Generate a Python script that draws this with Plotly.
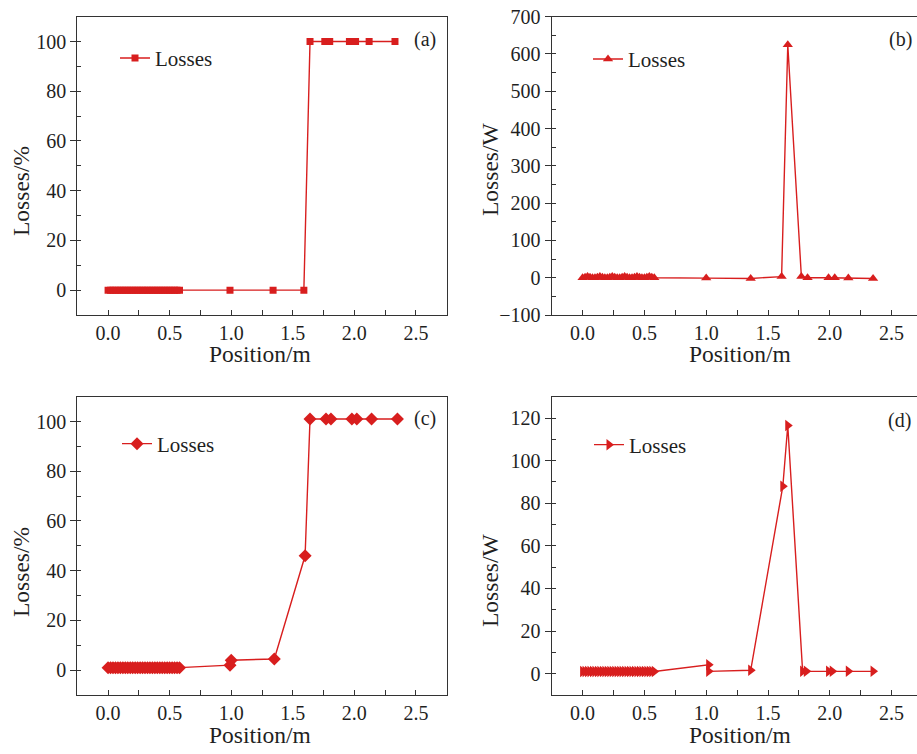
import plotly.graph_objects as go

# ---------------- data ----------------
pos_dense = [0.00, 0.02, 0.04, 0.06, 0.08, 0.10, 0.12, 0.14, 0.16, 0.18,
             0.20, 0.22, 0.24, 0.26, 0.28, 0.30, 0.32, 0.34, 0.36, 0.38,
             0.40, 0.42, 0.44, 0.46, 0.48, 0.50, 0.52, 0.54, 0.56, 0.58]

a_x = pos_dense + [0.99, 1.34, 1.59, 1.64, 1.76, 1.80, 1.96, 2.01, 2.12, 2.33]
a_y = [0]*30 + [0, 0, 0, 100, 100, 100, 100, 100, 100, 100]

b_x = pos_dense + [1.00, 1.36, 1.61, 1.66, 1.77, 1.82, 1.99, 2.04, 2.15, 2.35]
b_y = [0, 1, 3, 1, 0, 0, 1, 3, 1, 0,
       0, 1, 3, 1, 0, 0, 1, 3, 1, 0,
       0, 1, 3, 1, 0, 0, 1, 3, 1, 0] + [-1, -2, 3, 625, 3, 0, 0, 0, -1, -2]

c_x = pos_dense + [0.99, 1.00, 1.35, 1.60, 1.64, 1.77, 1.81, 1.98, 2.02, 2.14, 2.35]
c_y = [1]*30 + [2.0, 4.0, 4.5, 46, 101, 101, 101, 101, 101, 101, 101]

d_x = pos_dense + [1.02, 1.02, 1.36, 1.62, 1.66, 1.78, 1.81, 1.99, 2.02, 2.15, 2.35]
d_y = [1]*30 + [4.2, 1.1, 1.6, 88, 116.5, 1.1, 1.1, 1.1, 1.1, 1.1, 1.1]

x_ticks = [0.0, 0.5, 1.0, 1.5, 2.0, 2.5]
series_name = "Losses"
panel_tags = ["(a)", "(b)", "(c)", "(d)"]

# ---------------- layout constants ----------------
W, H = 917, 754
RED = "#d81e1e"
INK = "#1f1f1f"
FRAME = "#333333"
FONT = "Liberation Serif"

def px_x(p):
    return p / W

def px_y(p):
    return 1 - p / H

fig = go.Figure()

panels = [
    dict(x=a_x, y=a_y, sym="square", size=7, xa="x", ya="y", leg="legend"),
    dict(x=b_x, y=b_y, sym="triangle-up", size=9, xa="x2", ya="y2", leg="legend2"),
    dict(x=c_x, y=c_y, sym="diamond", size=10, xa="x3", ya="y3", leg="legend3"),
    dict(x=d_x, y=d_y, sym="triangle-right", size=10, xa="x4", ya="y4", leg="legend4"),
]
for p in panels:
    fig.add_trace(go.Scatter(
        x=p["x"], y=p["y"], mode="lines+markers", name=series_name,
        line=dict(color=RED, width=1.4),
        marker=dict(symbol=p["sym"], size=p["size"], color=RED, line=dict(width=0)),
        xaxis=p["xa"], yaxis=p["ya"], legend=p["leg"], showlegend=True,
    ))

def xaxis(domain, rng, anchor):
    return dict(
        domain=domain, range=rng, anchor=anchor, automargin=False,
        tickmode="array", tickvals=x_ticks, ticktext=[f"{v:.1f}" for v in x_ticks],
        ticks="inside", ticklen=5, tickwidth=1.2, tickcolor=FRAME,
        minor=dict(dtick=0.25, tick0=0, ticks="inside", ticklen=5, tickwidth=1.2, tickcolor=FRAME, showgrid=False),
        showline=True, linecolor=FRAME, linewidth=1.3, mirror=True,
        showgrid=False, zeroline=False,
        tickfont=dict(family=FONT, size=20, color=INK),
        ticklabelstandoff=0,
    )

def yaxis(domain, rng, anchor, dtick, mdtick, mirror=True):
    return dict(
        domain=domain, range=rng, anchor=anchor, automargin=False,
        dtick=dtick, tick0=0,
        ticks="outside", ticklen=6, tickwidth=1.2, tickcolor=FRAME,
        minor=dict(dtick=mdtick, tick0=0, ticks="inside", ticklen=4, tickwidth=1.2, tickcolor=FRAME, showgrid=False),
        showline=True, linecolor=FRAME, linewidth=1.3, mirror=mirror,
        showgrid=False, zeroline=False,
        tickfont=dict(family=FONT, size=20, color=INK),
    )

top_dom = [px_y(315), px_y(16.7)]
bot_dom = [px_y(695), px_y(396.7)]
left_dom = [px_x(77.3), px_x(446.7)]
right_dom = [px_x(551.7), 1.0]
right_max = -0.25 + (917 - 551.7) / 123.6

fig.update_layout(
    template="none",
    width=W, height=H, autosize=False,
    margin=dict(l=0, r=0, t=0, b=0, pad=0),
    paper_bgcolor="white", plot_bgcolor="white",
    font=dict(family=FONT, color=INK),
    xaxis=xaxis(left_dom, [-0.25, 2.75], "y"),
    yaxis=yaxis(top_dom, [-10, 110], "x", 20, 10),
    xaxis2=xaxis(right_dom, [-0.25, right_max], "y2"),
    yaxis2=yaxis(top_dom, [-100, 700], "x2", 100, 50, mirror=False),
    xaxis3=xaxis(left_dom, [-0.25, 2.75], "y3"),
    yaxis3=yaxis(bot_dom, [-10, 110], "x3", 20, 10),
    xaxis4=xaxis(right_dom, [-0.25, right_max], "y4"),
    yaxis4=yaxis(bot_dom, [-10, 130], "x4", 20, 10, mirror=False),
)

def legend(xp, yp):
    return dict(x=px_x(xp), y=px_y(yp), xanchor="left", yanchor="middle",
                bgcolor="rgba(0,0,0,0)", borderwidth=0,
                font=dict(family=FONT, size=21, color=INK))

fig.update_layout(
    legend=legend(115, 58.3),
    legend2=legend(588, 59.3),
    legend3=legend(117, 444),
    legend4=legend(589, 445),
)

annos = []
for tag, (xp, yp) in zip(panel_tags, [(425, 40), (900, 40), (425, 418), (899, 420)]):
    annos.append(dict(text=tag, x=px_x(xp), y=px_y(yp), xref="paper", yref="paper",
                      showarrow=False, xanchor="center", yanchor="middle",
                      font=dict(family=FONT, size=20, color=INK)))
for txt, (xp, yp) in zip(["Losses/%", "Losses/W", "Losses/%", "Losses/W"],
                         [(21, 191), (490, 169), (21, 572), (490, 580)]):
    annos.append(dict(text=txt, x=px_x(xp), y=px_y(yp), xref="paper", yref="paper",
                      showarrow=False, xanchor="center", yanchor="middle", textangle=-90,
                      font=dict(family=FONT, size=23.5, color=INK)))
for xp, yp in [(260, 354), (740, 354), (260, 735), (740, 735)]:
    annos.append(dict(text="Position/m", x=px_x(xp), y=px_y(yp), xref="paper", yref="paper",
                      showarrow=False, xanchor="center", yanchor="middle",
                      font=dict(family=FONT, size=23.5, color=INK)))
fig.update_layout(annotations=annos)

fig.write_html("out.html", config={"displayModeBar": False},
               post_script="document.body.style.margin='0px';document.body.style.overflow='hidden';")
